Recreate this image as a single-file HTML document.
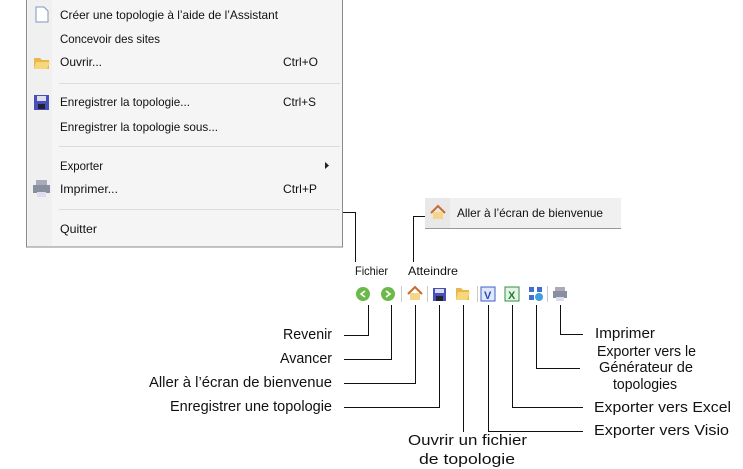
<!DOCTYPE html>
<html><head><meta charset="utf-8"><style>
body{margin:0;background:#fff;width:743px;height:469px;overflow:hidden}
svg{display:block}
.m{font-family:"Liberation Sans",sans-serif;font-size:12px;fill:#111}
.t{font-family:"Liberation Sans",sans-serif;font-size:14.5px;fill:#111}
</style></head><body>
<svg width="743" height="469" viewBox="0 0 743 469">
<rect x="26.5" y="-1" width="316" height="248" fill="#f5f5f5" stroke="#8a8a8a"/>
<rect x="28" y="0" width="24" height="246" fill="#f0f0f0"/>
<g stroke="#dcdcdc"><line x1="59" y1="83.5" x2="340" y2="83.5"/><line x1="59" y1="146.5" x2="340" y2="146.5"/><line x1="59" y1="209.5" x2="340" y2="209.5"/></g>
<g class="m" lengthAdjust="spacingAndGlyphs">
<text x="60" y="19" textLength="218" lengthAdjust="spacingAndGlyphs">Créer une topologie à l’aide de l’Assistant</text>
<text x="60" y="43" textLength="100" lengthAdjust="spacingAndGlyphs">Concevoir des sites</text>
<text x="60" y="66" textLength="42" lengthAdjust="spacingAndGlyphs">Ouvrir...</text><text x="283" y="66" textLength="35" lengthAdjust="spacingAndGlyphs">Ctrl+O</text>
<text x="60" y="106" textLength="130" lengthAdjust="spacingAndGlyphs">Enregistrer la topologie...</text><text x="283" y="106" textLength="33" lengthAdjust="spacingAndGlyphs">Ctrl+S</text>
<text x="60" y="131" textLength="158" lengthAdjust="spacingAndGlyphs">Enregistrer la topologie sous...</text>
<text x="60" y="170" textLength="43" lengthAdjust="spacingAndGlyphs">Exporter</text>
<text x="60" y="193" textLength="58" lengthAdjust="spacingAndGlyphs">Imprimer...</text><text x="283" y="193" textLength="34" lengthAdjust="spacingAndGlyphs">Ctrl+P</text>
<text x="60" y="233" textLength="37" lengthAdjust="spacingAndGlyphs">Quitter</text>
</g>
<path d="M325 162 L329 165.5 L325 169Z" fill="#222"/>
<path d="M36 7h8l4 4v11h-12z" fill="#fff" stroke="#7a9ac0"/>
<path d="M34 58h6l2 2h7v9h-15z" fill="#e8b84a"/><path d="M36 62h14l-3 7h-13z" fill="#f6d77a"/>
<rect x="34" y="95" width="15" height="15" fill="#4650b8"/><rect x="37" y="96" width="9" height="5" fill="#dde"/><rect x="38" y="104" width="7" height="5" fill="#223"/>
<rect x="36" y="180" width="11" height="5" fill="#aab"/><rect x="33" y="185" width="17" height="8" fill="#8890a0"/><rect x="37" y="192" width="9" height="5" fill="#dde"/>
<rect x="425" y="198" width="196" height="30" fill="#f0f0f0"/>
<line x1="425" y1="228.5" x2="621" y2="228.5" stroke="#999"/>
<rect x="425" y="198" width="25" height="30" fill="#e8e8e8"/>
<text class="m" x="457" y="217" textLength="146" lengthAdjust="spacingAndGlyphs">Aller à l’écran de bienvenue</text>
<path d="M431 213l7-7 7 7" fill="none" stroke="#c96a2a" stroke-width="2"/><rect x="433" y="212" width="10" height="7" fill="#f4d58a"/>
<g stroke="#111" stroke-width="1" fill="none">
<path d="M343 212.5H355.5V262"/>
<path d="M425 216.5H413.5V262"/>
<path d="M344 335.5H368.5V305"/>
<path d="M344 359.5H391.5V305"/>
<path d="M344 383.5H415.5V305"/>
<path d="M344 407.5H439.5V305"/>
<path d="M463.5 305V432"/>
<path d="M488.5 305V431.5H583"/>
<path d="M512.5 305V407.5H583"/>
<path d="M536.5 305V368.5H580"/>
<path d="M560.5 305V334.5H583"/>
</g>
<g class="m">
<text x="355" y="275" textLength="33" lengthAdjust="spacingAndGlyphs">Fichier</text>
<text x="408" y="275" textLength="50" lengthAdjust="spacingAndGlyphs">Atteindre</text>
</g>
<g class="t">
<text x="283" y="339" textLength="49" lengthAdjust="spacingAndGlyphs">Revenir</text>
<text x="280" y="363" textLength="52" lengthAdjust="spacingAndGlyphs">Avancer</text>
<text x="149" y="387" textLength="183" lengthAdjust="spacingAndGlyphs">Aller à l’écran de bienvenue</text>
<text x="170" y="411" textLength="162" lengthAdjust="spacingAndGlyphs">Enregistrer une topologie</text>
<text x="408" y="445" textLength="119" lengthAdjust="spacingAndGlyphs">Ouvrir un fichier</text>
<text x="419" y="464" textLength="96" lengthAdjust="spacingAndGlyphs">de topologie</text>
<text x="595" y="338" textLength="60" lengthAdjust="spacingAndGlyphs">Imprimer</text>
<text x="597" y="356" textLength="99" lengthAdjust="spacingAndGlyphs">Exporter vers le</text>
<text x="599" y="372" textLength="94" lengthAdjust="spacingAndGlyphs">Générateur de</text>
<text x="613" y="389" textLength="64" lengthAdjust="spacingAndGlyphs">topologies</text>
<text x="594" y="412" textLength="137" lengthAdjust="spacingAndGlyphs">Exporter vers Excel</text>
<text x="594" y="435" textLength="135" lengthAdjust="spacingAndGlyphs">Exporter vers Visio</text>
</g>
<circle cx="363" cy="294" r="7" fill="#6cb84a"/><path d="M365 291l-4 3 4 3" fill="none" stroke="#fff" stroke-width="1.6"/>
<circle cx="388" cy="294" r="7" fill="#6cb84a"/><path d="M386 291l4 3-4 3" fill="none" stroke="#fff" stroke-width="1.6"/>
<g stroke="#ccc"><line x1="401.5" y1="286" x2="401.5" y2="302"/><line x1="427.5" y1="286" x2="427.5" y2="302"/><line x1="477.5" y1="286" x2="477.5" y2="302"/><line x1="547.5" y1="286" x2="547.5" y2="302"/></g>
<path d="M408 294l7-7 7 7" fill="none" stroke="#c96a2a" stroke-width="2"/><rect x="410" y="293" width="10" height="7" fill="#f4d58a"/>
<rect x="433" y="288" width="13" height="13" fill="#4650b8"/><rect x="435" y="289" width="9" height="4" fill="#dde"/><rect x="436" y="296" width="7" height="5" fill="#223"/>
<path d="M456 288h5l2 2h6v10h-13z" fill="#e8b84a"/><path d="M458 292h12l-3 8h-11z" fill="#f6d77a"/>
<rect x="481" y="287" width="14" height="14" fill="#dfe8ff" stroke="#3f5fbf"/><text x="484" y="299" font-family="Liberation Sans" font-weight="bold" font-size="11" fill="#2a4aaa">V</text>
<rect x="505" y="287" width="14" height="14" fill="#e4f4e4" stroke="#2f8f3f"/><text x="508" y="299" font-family="Liberation Sans" font-weight="bold" font-size="11" fill="#1f7f2f">X</text>
<rect x="529" y="287" width="5" height="5" fill="#3f6fcf"/><rect x="537" y="287" width="5" height="5" fill="#3f6fcf"/><rect x="529" y="295" width="5" height="5" fill="#3f6fcf"/><circle cx="539" cy="297" r="4" fill="#3fa0e0"/>
<rect x="555" y="287" width="10" height="5" fill="#aab"/><rect x="553" y="291" width="14" height="7" fill="#8890a0"/><rect x="556" y="297" width="8" height="4" fill="#dde"/>
</svg>
</body></html>
